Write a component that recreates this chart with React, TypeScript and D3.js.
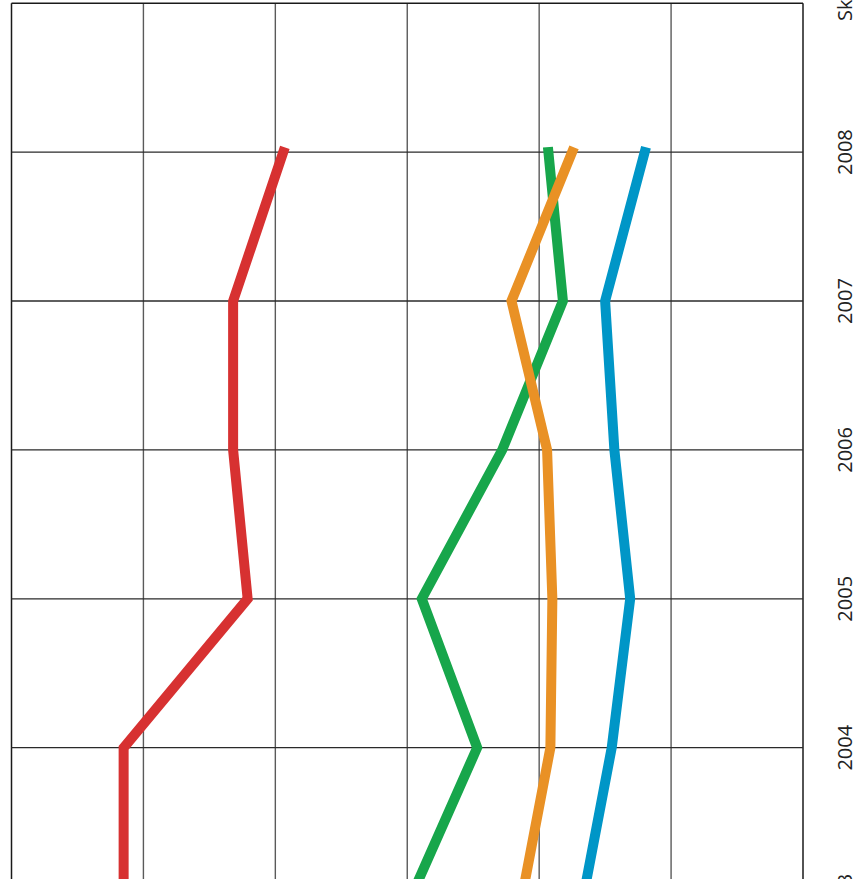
import React from "react";
import * as d3 from "d3";

const years = [2003, 2004, 2005, 2006, 2007, 2008];
const redValues = [8.5, 8.5, 17.9, 16.8, 16.8, 20.6];
const greenValues = [30.3, 35.3, 31.1, 37.2, 41.8, 40.7];
const orangeValues = [38.7, 40.85, 41.0, 40.6, 37.9, 42.5];
const blueValues = [43.35, 45.5, 46.9, 45.7, 45.0, 48.0];
const valueTicks = [0, 10, 20, 30, 40, 50, 60];
const yearTicks = [2003, 2004, 2005, 2006, 2007, 2008];
const axisTitle = "Skólaár";

const series = [
  { name: "red", color: "#d73131", values: redValues },
  { name: "green", color: "#17a64b", values: greenValues },
  { name: "orange", color: "#e99125", values: orangeValues },
  { name: "blue", color: "#0096c7", values: blueValues },
];

export default function App() {
  const W = 853;
  const H = 879;
  const x = d3.scaleLinear().domain([0, 60]).range([11.5, 803]);
  const y = d3.scaleLinear().domain([2003, 2009]).range([896.6, 3.2]);
  const line = d3
    .line<[number, number]>()
    .x((d) => x(d[1]))
    .y((d) => y(d[0]));

  return (
    <svg
      width={W}
      height={H}
      style={{ position: "absolute", left: 0, top: 0, background: "#fff" }}
      fontFamily="'Open Sans', sans-serif"
    >
      {valueTicks.map((v) => (
        <line
          key={"v" + v}
          x1={x(v)}
          x2={x(v)}
          y1={y(2009)}
          y2={H + 20}
          stroke={v === 0 || v === 60 ? "#1a1a1a" : "#5a5a5a"}
          strokeWidth={v === 0 || v === 60 ? 1.5 : 1.4}
        />
      ))}
      {yearTicks.map((yr) => (
        <line
          key={"h" + yr}
          x1={x(0)}
          x2={x(60)}
          y1={y(yr)}
          y2={y(yr)}
          stroke="#2a2a2a"
          strokeWidth={1.3}
        />
      ))}
      <line x1={x(0)} x2={x(60)} y1={y(2009)} y2={y(2009)} stroke="#1a1a1a" strokeWidth={1.5} />
      {series.map((s) => (
        <path
          key={s.name}
          d={line(years.map((yr, i) => [yr, s.values[i]] as [number, number])) || ""}
          fill="none"
          stroke={s.color}
          strokeWidth={10}
          strokeLinejoin="miter"
          strokeLinecap="square"
        />
      ))}
      {yearTicks.map((yr) => (
        <text
          key={"t" + yr}
          transform={`translate(852,${y(yr)}) rotate(-90)`}
          textAnchor="middle"
          fontSize={20}
          fill="#222"
        >
          {yr}
        </text>
      ))}
      <text
        transform={`translate(852,21) rotate(-90)`}
        textAnchor="start"
        fontSize={20}
        fill="#222"
      >
        {axisTitle}
      </text>
    </svg>
  );
}
